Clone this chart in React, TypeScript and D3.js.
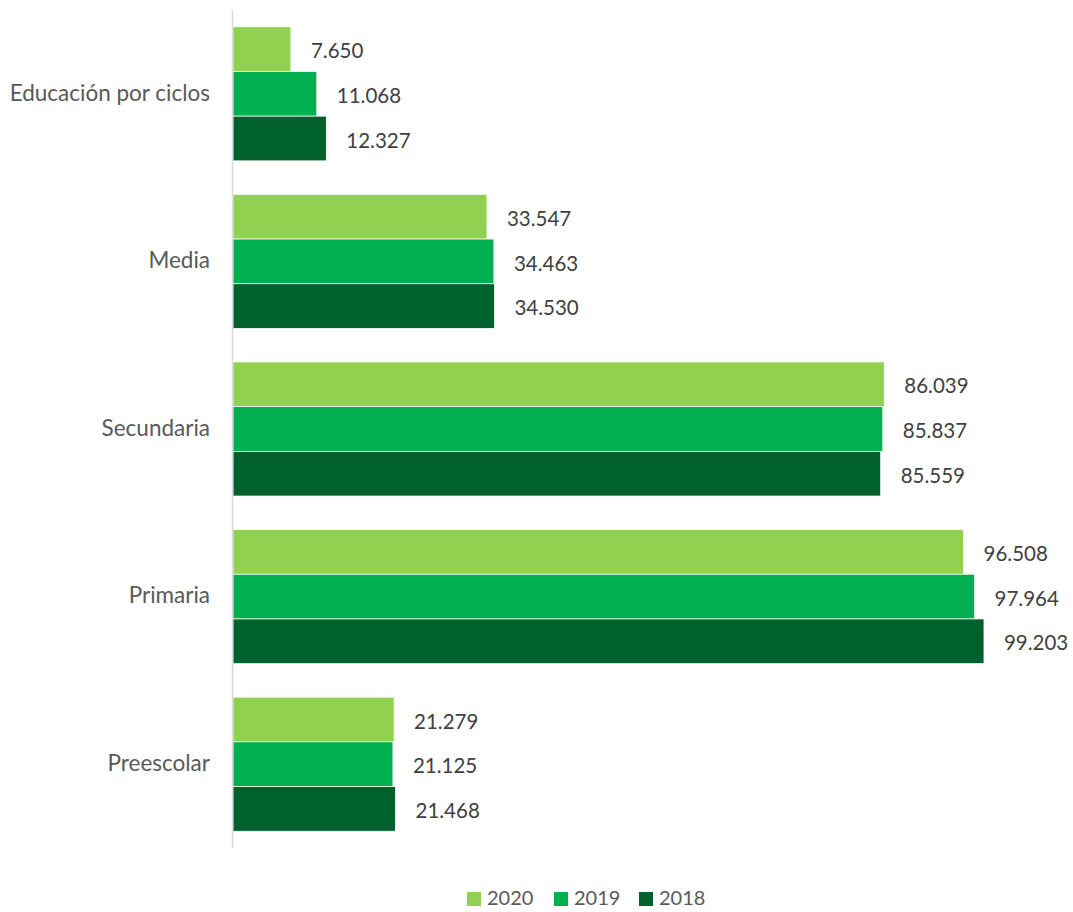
import React from "react";
import * as d3 from "d3";

const categories = ["Educación por ciclos", "Media", "Secundaria", "Primaria", "Preescolar"];
const seriesNames = ["2020", "2019", "2018"];
const values2020 = [7650, 33547, 86039, 96508, 21279];
const values2019 = [11068, 34463, 85837, 97964, 21125];
const values2018 = [12327, 34530, 85559, 99203, 21468];
const colors = ["#92D050", "#00B050", "#00612D"];

const W = 1073;
const H = 912;
const FONT = "Lato, 'Open Sans', sans-serif";

const fmt = (v: number) => d3.format(",")(v).replace(/,/g, ".");

export default function App() {
  const series = [values2020, values2019, values2018];
  const y = d3.scaleBand<string>().domain(categories).range([10, 848]).paddingInner(0.2).paddingOuter(0.1);
  const inner = d3.scaleBand<string>().domain(seriesNames).range([0, y.bandwidth()]);
  const x = d3.scaleLinear().domain([0, 100000]).range([233, 990]);

  return (
    <svg width={W} height={H} style={{ position: "absolute", left: 0, top: 0, background: "#fff" }}>
      {categories.map((c, ci) => (
        <g key={c}>
          {series.map((vals, si) => {
            const yy = (y(c) as number) + (inner(seriesNames[si]) as number);
            return (
              <g key={si}>
                <rect
                  x={x(0)}
                  y={yy}
                  width={x(vals[ci]) - x(0)}
                  height={inner.bandwidth()}
                  fill={colors[si]}
                  stroke="#ffffff"
                  strokeWidth={0.75}
                />
                <text
                  x={x(vals[ci]) + 20}
                  y={yy + inner.bandwidth() / 2 + 4}
                  dominantBaseline="middle"
                  fontFamily={FONT}
                  fontSize={20.5}
                  fill="#404040"
                >
                  {fmt(vals[ci])}
                </text>
              </g>
            );
          })}
          <text
            x={210}
            y={(y(c) as number) + y.bandwidth() / 2 + 1}
            textAnchor="end"
            dominantBaseline="middle"
            fontFamily={FONT}
            fontSize={22.5}
            fill="#595959"
          >
            {c}
          </text>
        </g>
      ))}
      <line x1={232.5} x2={232.5} y1={10} y2={848} stroke="#D9D9D9" strokeWidth={1.5} />
      {seriesNames.map((s, i) => {
        const lx = [467, 554, 639][i];
        return (
          <g key={s}>
            <rect x={lx} y={892} width={14} height={14} fill={colors[i]} />
            <text x={lx + 20} y={900} dominantBaseline="middle" fontFamily={FONT} fontSize={20} fill="#595959">
              {s}
            </text>
          </g>
        );
      })}
    </svg>
  );
}
